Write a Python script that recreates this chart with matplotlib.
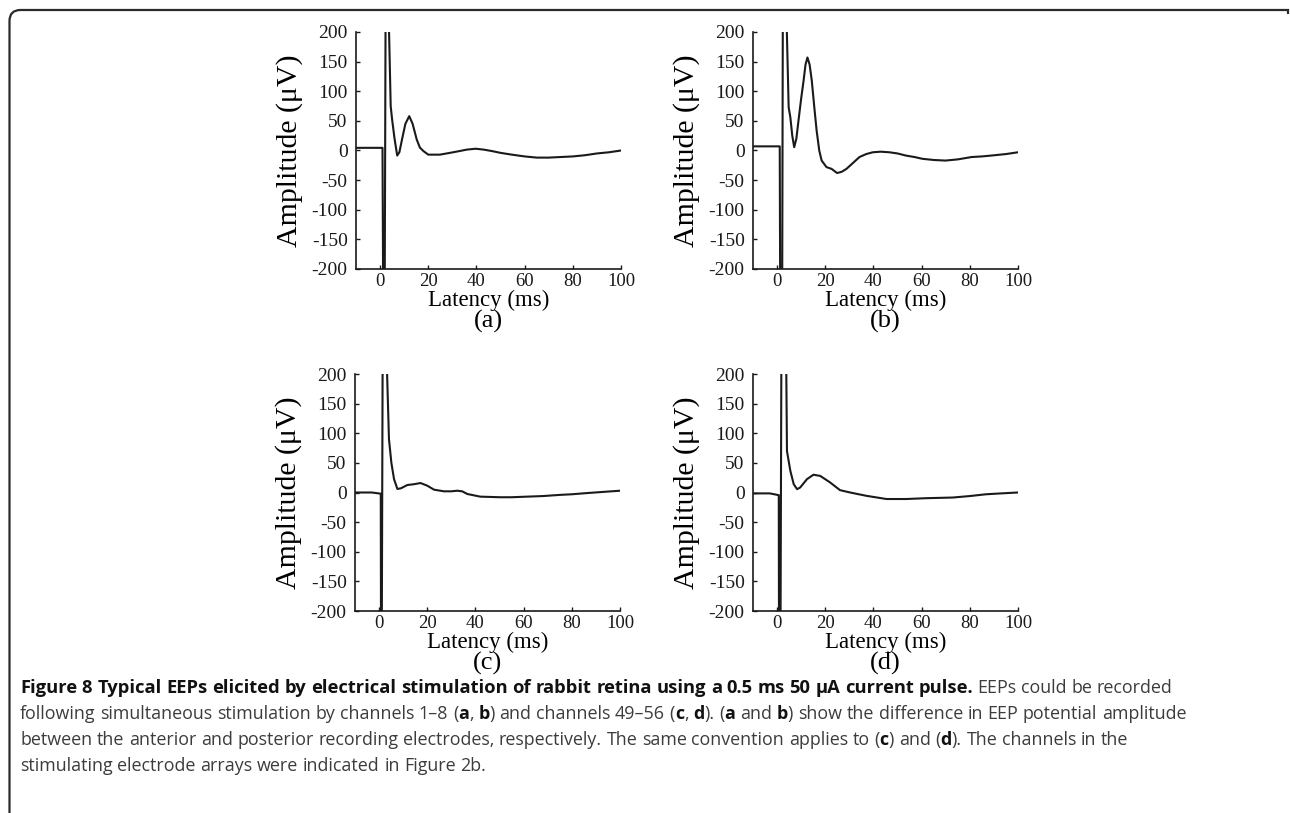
import matplotlib
matplotlib.use('Agg')
import matplotlib.pyplot as plt
from matplotlib.path import Path
from matplotlib.patches import PathPatch

plt.rcParams['axes.unicode_minus'] = False

# traces: latency (ms) and amplitude (uV)
t_a = [-10, 1.0, 1.3, 1.9, 2.3, 3.4, 4.4, 5.0, 6.0, 7.1, 8.0, 9.1, 10.5, 12.1, 13.5, 15.2, 16.5, 18, 20,
       24.8, 29, 32.9, 36, 39.7, 43, 46.5, 50, 54.7, 60, 65, 70, 75, 80, 85, 90, 95, 100]
v_a = [4.5, 4.5, -260, -260, 260, 260, 75, 52, 20, -8.5, -3, 18.6, 45, 58, 45, 18.6, 5, -1, -7,
       -7, -4, -1, 1.5, 3, 1.5, -1, -4, -7, -10, -12, -12, -11, -10, -8, -5, -3, 0]

t_b = [-10, 1.1, 1.3, 2.1, 2.4, 3.7, 4.8, 5.5, 6.3, 7.1, 8.0, 8.9, 10, 11, 11.8, 12.6, 13.5, 14.4, 15.4,
       16.4, 17.5, 18.5, 20.5, 22.6, 24.9, 26.8, 28.8, 31.5, 34.2, 37, 39.7, 43, 46.6, 50, 53.4, 57, 60.3,
       65, 69.9, 75, 80.8, 85, 89, 95, 100]
v_b = [7, 7, -260, -260, 260, 260, 73, 56, 25, 5.6, 20, 51, 88, 118, 145, 157, 145, 118, 75,
       34, 0, -17, -28, -31, -38, -36, -31, -21, -11, -6, -3, -2, -3, -5, -8.5, -11, -14,
       -16, -17, -15, -11, -10, -8.5, -6, -3]

t_c = [-10, -3, 0.7, 0.8, 1.1, 1.5, 2.9, 4.1, 5.1, 6.2, 7.6, 9, 11.7, 14.5, 17.2, 20, 22.8, 26.9, 30,
       32.4, 34.5, 36.6, 42, 50.3, 55, 61.4, 68, 75.2, 80, 86.2, 93, 100]
v_c = [0, 0, -2, -260, -260, 260, 260, 90, 50, 22.6, 6, 7, 12.6, 14, 16, 11.5, 4.8, 2, 2,
       3, 2, -2.5, -7, -8, -8, -7, -6, -4, -3, -1, 1, 3]

t_d = [-10, -3, 0.7, 0.8, 1.4, 1.8, 3.7, 4.1, 5.5, 6.9, 8.3, 9.6, 12.4, 15.1, 17.9, 22, 26.1, 30.3,
       37.1, 45.4, 53.6, 61.9, 72.9, 80, 86.7, 93, 100]
v_d = [-1.5, -1.5, -4.5, -260, -260, 260, 260, 70, 36.6, 14, 5.6, 8.5, 22.5, 30, 28, 17, 4, 0,
       -5.6, -11, -11, -9.6, -8.5, -6, -3, -1.5, 0]

traces = [(t_a, v_a), (t_b, v_b), (t_c, v_c), (t_d, v_d)]
panel_labels = ['(a)', '(b)', '(c)', '(d)']
x_ticks = [0, 20, 40, 60, 80, 100]
y_ticks = [-200, -150, -100, -50, 0, 50, 100, 150, 200]

W, H = 1290, 813
fig = plt.figure(figsize=(W / 100, H / 100), dpi=100)
serif = 'Liberation Serif'

# axes boxes in pixels: left, top
boxes = [(356, 32), (753, 32), (355, 374), (753, 374)]
aw, ah = 265, 237

for (t, v), lab, (px, py) in zip(traces, panel_labels, boxes):
    ax = fig.add_axes([px / W, 1 - (py + ah) / H, aw / W, ah / H])
    ax.plot(t, v, color='#1a1a1a', lw=1.5)
    ax.set_xlim(-10, 100)
    ax.set_ylim(-200, 200)
    ax.set_xticks(x_ticks)
    ax.set_yticks(y_ticks)
    for s in ['top', 'right']:
        ax.spines[s].set_visible(False)
    for s in ['left', 'bottom']:
        ax.spines[s].set_linewidth(1.2)
        ax.spines[s].set_color('#1a1a1a')
    ax.tick_params(direction='in', length=3, width=1, colors='#1a1a1a', labelsize=14)
    ax.tick_params(axis='x', pad=3, labelsize=13.5)
    ax.tick_params(axis='y', pad=6)
    for tl in ax.get_xticklabels() + ax.get_yticklabels():
        tl.set_family(serif)
    ax.set_ylabel('Amplitude (μV)', family=serif, fontsize=21.5, labelpad=6)
    ax.set_xlabel('Latency (ms)', family=serif, fontsize=16.5, labelpad=0)
    cx = (px + aw / 2) / W
    fig.text(cx, 1 - (py + ah + 52) / H, lab, family=serif, fontsize=19,
             ha='center', va='center')

# frame: left edge and top edge with a rounded corner
x0, y0, r = 9.5 / W, 1 - 10 / H, 11
verts = [(x0, 0), (x0, y0 - r / H), (x0, y0), (x0 + r / W, y0), (1288 / W, y0), (1288 / W, y0 - 4 / H)]
codes = [Path.MOVETO, Path.LINETO, Path.CURVE3, Path.CURVE3, Path.LINETO, Path.LINETO]
fig.add_artist(PathPatch(Path(verts, codes), transform=fig.transFigure, fill=False,
                         ec='#2a2a2a', lw=1.6))

# caption, mixed bold / regular runs
cap_font = 'Open Sans'
B, N, T = 'title', 'normal', 'bold'
sizes = {B: 13.2, N: 12.9, T: 12.9}
weights = {B: 'bold', N: 'normal', T: 'bold'}
colors = {B: '#111111', N: '#3c3c3c', T: '#111111'}
caption = [
    [('Figure 8 Typical EEPs elicited by electrical stimulation of rabbit retina using a 0.5 ms 50 μA current pulse.', B),
     (' EEPs could be recorded', N)],
    [('following simultaneous stimulation by channels 1–8 (', N), ('a', T), (', ', N), ('b', T),
     (') and channels 49–56 (', N), ('c', T), (', ', N), ('d', T), ('). (', N), ('a', T),
     (' and ', N), ('b', T), (') show the difference in EEP potential amplitude', N)],
    [('between the anterior and posterior recording electrodes, respectively. The same convention applies to (', N),
     ('c', T), (') and (', N), ('d', T), ('). The channels in the', N)],
    [('stimulating electrode arrays were indicated in Figure 2b.', N)],
]

renderer = fig.canvas.get_renderer()


def space_width(style):
    kw = dict(family=cap_font, fontsize=sizes[style], weight=weights[style])
    t1 = fig.text(0, 0, 'x x', **kw)
    t2 = fig.text(0, 0, 'xx', **kw)
    d = t1.get_window_extent(renderer).width - t2.get_window_extent(renderer).width
    t1.remove()
    t2.remove()
    return d


sp = {s: space_width(s) for s in sizes}

for i, line in enumerate(caption):
    x = 20.0
    y = 1 - (688 + i * 26) / H
    for text, style in line:
        words = text.split(' ')
        for j, wd in enumerate(words):
            if j > 0:
                x += sp[style]
            if wd:
                t = fig.text(x / W, y, wd, family=cap_font, fontsize=sizes[style],
                             weight=weights[style], color=colors[style], va='center')
                x += t.get_window_extent(renderer).width

fig.savefig('out.png', dpi=100)
